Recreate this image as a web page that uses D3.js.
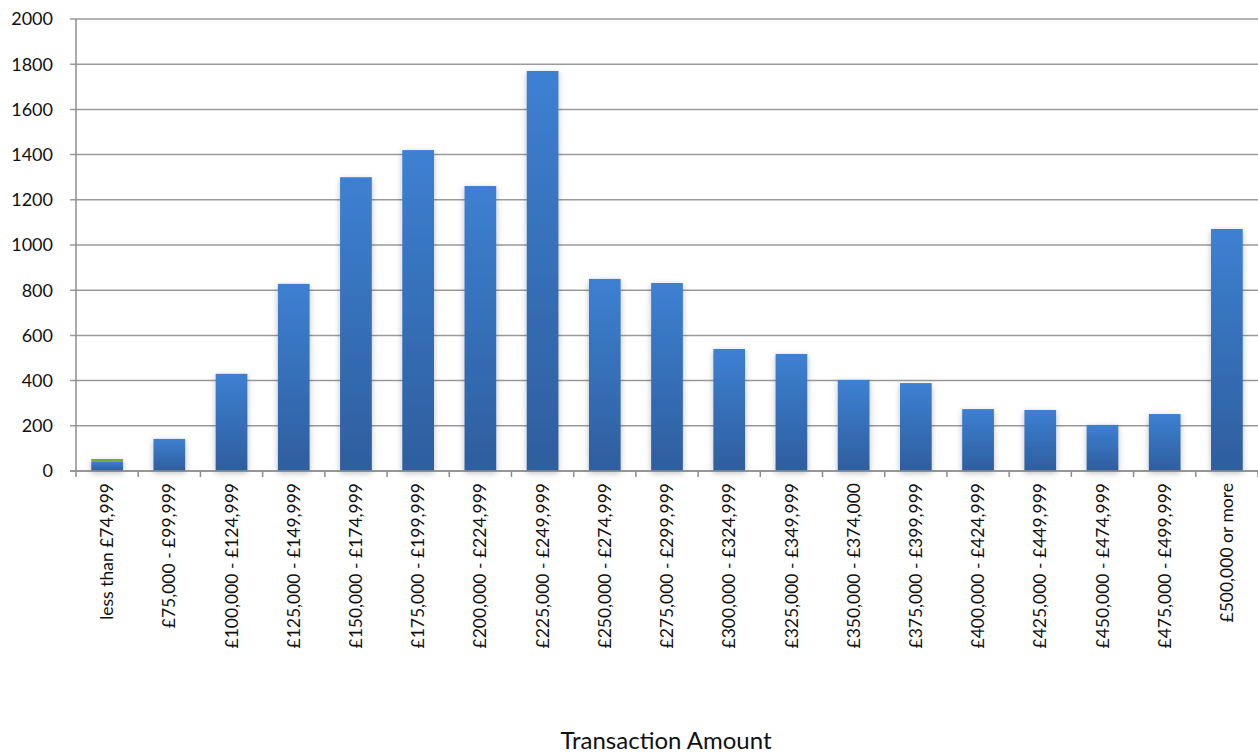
<!DOCTYPE html>
<html><head><meta charset="utf-8">
<script src="https://cdn.jsdelivr.net/npm/d3@7"></script>
<style>body{margin:0;background:#fff}svg{display:block}</style>
</head><body><svg id="c" width="1258" height="753"></svg>
<script>
const categories = ["less than £74,999","£75,000 - £99,999","£100,000 - £124,999","£125,000 - £149,999","£150,000 - £174,999","£175,000 - £199,999","£200,000 - £224,999","£225,000 - £249,999","£250,000 - £274,999","£275,000 - £299,999","£300,000 - £324,999","£325,000 - £349,999","£350,000 - £374,000","£375,000 - £399,999","£400,000 - £424,999","£425,000 - £449,999","£450,000 - £474,999","£475,000 - £499,999","£500,000 or more"];
const seriesA = [43,142,430,828,1300,1420,1261,1770,850,832,540,518,403,389,274,270,204,252,1071];
const seriesB = [10,0,0,0,0,0,0,0,0,0,0,0,0,0,0,0,0,0,0];
const yTicks = [0,200,400,600,800,1000,1200,1400,1600,1800,2000];
const xTitle = "Transaction Amount";

const svg = d3.select("#c");
const font = "Lato, 'Open Sans', sans-serif";
const m = {l:76, r:0, t:19, b:282};
const W = 1258, H = 753;
const x = d3.scaleBand().domain(categories).range([m.l, W - m.r]).paddingInner(0.49).paddingOuter(0.245);
const y = d3.scaleLinear().domain([0,2000]).range([H - m.b, m.t]);

const defs = svg.append("defs");
const g = defs.append("linearGradient").attr("id","bg").attr("x1",0).attr("y1",0).attr("x2",0).attr("y2",1);
g.append("stop").attr("offset","0%").attr("stop-color","#3d80d2");
g.append("stop").attr("offset","100%").attr("stop-color","#2e5e9e");
const f = defs.append("filter").attr("id","sh").attr("x","-30%").attr("y","-10%").attr("width","160%").attr("height","130%");
f.append("feDropShadow").attr("dx",0).attr("dy",2).attr("stdDeviation",3).attr("flood-color","#000").attr("flood-opacity",0.25);

svg.append("g").selectAll("line").data(yTicks).join("line")
  .attr("x1", m.l - 6).attr("x2", W).attr("y1", d=>y(d)).attr("y2", d=>y(d))
  .attr("stroke","#9a9a9a").attr("stroke-width",1.5);
svg.append("g").selectAll("text").data(yTicks).join("text")
  .attr("x", 53).attr("y", d=>y(d)).attr("dy","0.35em").attr("text-anchor","end")
  .attr("font-family", font).attr("font-size", 18).attr("fill","#111").text(d=>d);

const bars = svg.append("g").attr("filter","url(#sh)");
bars.selectAll("rect.a").data(categories).join("rect").attr("class","a")
  .attr("x", d=>x(d)).attr("width", x.bandwidth())
  .attr("y", (d,i)=>y(seriesA[i])).attr("height",(d,i)=>y(0)-y(seriesA[i]))
  .attr("fill","url(#bg)");
bars.selectAll("rect.b").data(categories.filter((d,i)=>seriesB[i]>0)).join("rect").attr("class","b")
  .attr("x", d=>x(d)).attr("width", x.bandwidth())
  .attr("y", d=>{const i=categories.indexOf(d); return y(seriesA[i]+seriesB[i]);})
  .attr("height", d=>{const i=categories.indexOf(d); return y(seriesA[i]) - y(seriesA[i]+seriesB[i]);})
  .attr("fill","#7aa33e");

svg.append("line").attr("x1",m.l).attr("x2",m.l).attr("y1",y(2000)).attr("y2",y(0)+6).attr("stroke","#8c8c8c").attr("stroke-width",1.5);
svg.append("line").attr("x1",m.l-6).attr("x2",W).attr("y1",y(0)).attr("y2",y(0)).attr("stroke","#8c8c8c").attr("stroke-width",1.5);
svg.append("g").selectAll("line").data(categories).join("line")
  .attr("x1",(d,i)=>m.l + (i+1)*(W-m.l)/categories.length).attr("x2",(d,i)=>m.l + (i+1)*(W-m.l)/categories.length)
  .attr("y1",y(0)).attr("y2",y(0)+6).attr("stroke","#8c8c8c").attr("stroke-width",1.5);

svg.append("g").selectAll("text").data(categories).join("text")
  .attr("transform", d=>`translate(${x(d)+x.bandwidth()/2},${y(0)+12}) rotate(-90)`)
  .attr("text-anchor","end").attr("dy","0.35em")
  .attr("font-family", font).attr("font-size", 17.5).attr("fill","#111").text(d=>d);

svg.append("text").attr("x", 666).attr("y", 749).attr("text-anchor","middle")
  .attr("font-family", font).attr("font-size", 24).attr("fill","#111").text(xTitle);
</script></body></html>
